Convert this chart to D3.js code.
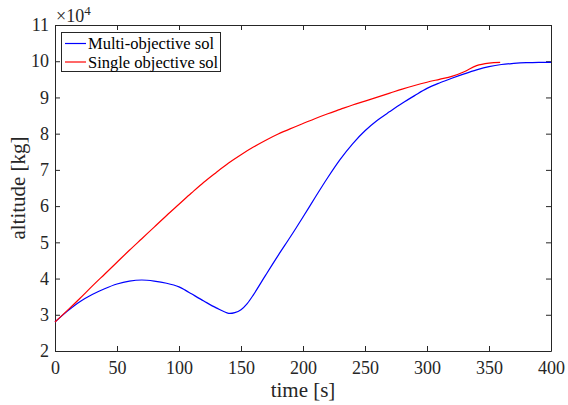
<!DOCTYPE html>
<html>
<head>
<meta charset="utf-8">
<script src="https://cdn.jsdelivr.net/npm/d3@7"></script>
<style>
  html, body { margin: 0; padding: 0; background: #fff; }
  svg { display: block; font-family: "Liberation Serif", "Times New Roman", serif; }
</style>
</head>
<body>
<svg id="chart" width="568" height="405"></svg>
<script>
// Altitude trajectories, values in units of 10^4
const yExponent = 4;

const multiTime = [0, 10, 20, 30, 40, 50, 60, 70, 80, 90, 100, 105, 110, 120, 130, 140, 145, 150, 155, 160, 170, 180, 190, 200, 210, 220, 230, 240, 250, 260, 270, 280, 290, 300, 310, 320, 330, 340, 350, 360, 370, 380, 390, 400];
const multiAlt  = [2.80, 3.10, 3.36, 3.56, 3.72, 3.85, 3.93, 3.96, 3.93, 3.87, 3.77, 3.68, 3.58, 3.38, 3.19, 3.04, 3.06, 3.14, 3.31, 3.55, 4.10, 4.64, 5.16, 5.70, 6.25, 6.79, 7.29, 7.72, 8.08, 8.37, 8.61, 8.84, 9.05, 9.25, 9.40, 9.53, 9.65, 9.76, 9.85, 9.91, 9.94, 9.96, 9.97, 9.97];

const singleTime = [0, 10, 20, 30, 40, 50, 60, 70, 80, 90, 100, 110, 120, 130, 140, 150, 160, 170, 180, 190, 200, 210, 220, 230, 240, 250, 260, 270, 280, 290, 300, 310, 320, 330, 340, 350, 359];
const singleAlt  = [2.80, 3.12, 3.45, 3.79, 4.12, 4.45, 4.78, 5.10, 5.42, 5.74, 6.05, 6.36, 6.66, 6.93, 7.19, 7.42, 7.63, 7.82, 7.99, 8.14, 8.28, 8.42, 8.55, 8.67, 8.79, 8.90, 9.01, 9.12, 9.23, 9.33, 9.42, 9.50, 9.58, 9.71, 9.88, 9.95, 9.97];

const xTicks = [0, 50, 100, 150, 200, 250, 300, 350, 400];
const yTicks = [2, 3, 4, 5, 6, 7, 8, 9, 10, 11];

const seriesNames  = ["Multi-objective sol", "Single objective sol"];
const seriesColors = ["#0000ff", "#ff0000"];

const xLabel = "time [s]";
const yLabel = "altitude [kg]";

const svg = d3.select("#chart");
const plotLeft = 55, plotRight = 551, plotTop = 25, plotBottom = 351;
const axisColor = "#262626";

const x = d3.scaleLinear().domain([0, 400]).range([plotLeft, plotRight]);
const y = d3.scaleLinear().domain([2, 11]).range([plotBottom, plotTop]);

// Axes with inward ticks on all four sides (boxed)
const tickLen = 5;
const gx = svg.append("g").attr("transform", `translate(0,${plotBottom})`)
  .call(d3.axisBottom(x).tickValues(xTicks).tickSizeInner(-tickLen).tickSizeOuter(0).tickPadding(10));
const gxTop = svg.append("g").attr("transform", `translate(0,${plotTop})`)
  .call(d3.axisTop(x).tickValues(xTicks).tickSizeInner(-tickLen).tickSizeOuter(0).tickFormat(""));
const gy = svg.append("g").attr("transform", `translate(${plotLeft},0)`)
  .call(d3.axisLeft(y).tickValues(yTicks).tickSizeInner(-tickLen).tickSizeOuter(0).tickPadding(6));
const gyRight = svg.append("g").attr("transform", `translate(${plotRight},0)`)
  .call(d3.axisRight(y).tickValues(yTicks).tickSizeInner(-tickLen).tickSizeOuter(0).tickFormat(""));

[gx, gxTop, gy, gyRight].forEach(g => {
  g.selectAll(".domain").attr("stroke", axisColor).attr("stroke-width", 1);
  g.selectAll(".tick line").attr("stroke", axisColor).attr("stroke-width", 1);
  g.selectAll(".tick text").attr("fill", "#262626")
    .style("font-family", "'Liberation Serif', serif").style("font-size", "18px");
});

// Data lines
const line = d3.line().x(d => x(d[0])).y(d => y(d[1])).curve(d3.curveCatmullRom.alpha(0.5));
const series = [
  d3.zip(multiTime, multiAlt),
  d3.zip(singleTime, singleAlt)
];
series.forEach((pts, i) => {
  svg.append("path").datum(pts)
    .attr("fill", "none").attr("stroke", seriesColors[i]).attr("stroke-width", 1.2)
    .attr("d", line);
});

// Exponent label
const expo = svg.append("text").attr("x", plotLeft + 1).attr("y", 22)
  .attr("fill", "#262626").style("font-size", "18px");
expo.append("tspan").text("\u00d710");
expo.append("tspan").text(yExponent).attr("dy", -7).style("font-size", "13px");

// Axis labels
svg.append("text").attr("x", (plotLeft + plotRight) / 2).attr("y", 397)
  .attr("text-anchor", "middle").attr("fill", "#262626").style("font-size", "21px")
  .text(xLabel);
svg.append("text").attr("transform", `translate(25,${(plotTop + plotBottom) / 2}) rotate(-90)`)
  .attr("text-anchor", "middle").attr("fill", "#262626").style("font-size", "21px")
  .text(yLabel);

// Legend
const lg = svg.append("g");
lg.append("rect").attr("x", 61.5).attr("y", 32.5).attr("width", 159).attr("height", 39)
  .attr("fill", "#fff").attr("stroke", axisColor).attr("stroke-width", 1);
seriesNames.forEach((name, i) => {
  const yy = 43.5 + i * 18.5;
  lg.append("line").attr("x1", 65).attr("x2", 86).attr("y1", yy).attr("y2", yy)
    .attr("stroke", seriesColors[i]).attr("stroke-width", 1.2);
  lg.append("text").attr("x", 88).attr("y", yy + 5.5)
    .attr("fill", "#000").style("font-size", "16.5px").text(name);
});
</script>
</body>
</html>
